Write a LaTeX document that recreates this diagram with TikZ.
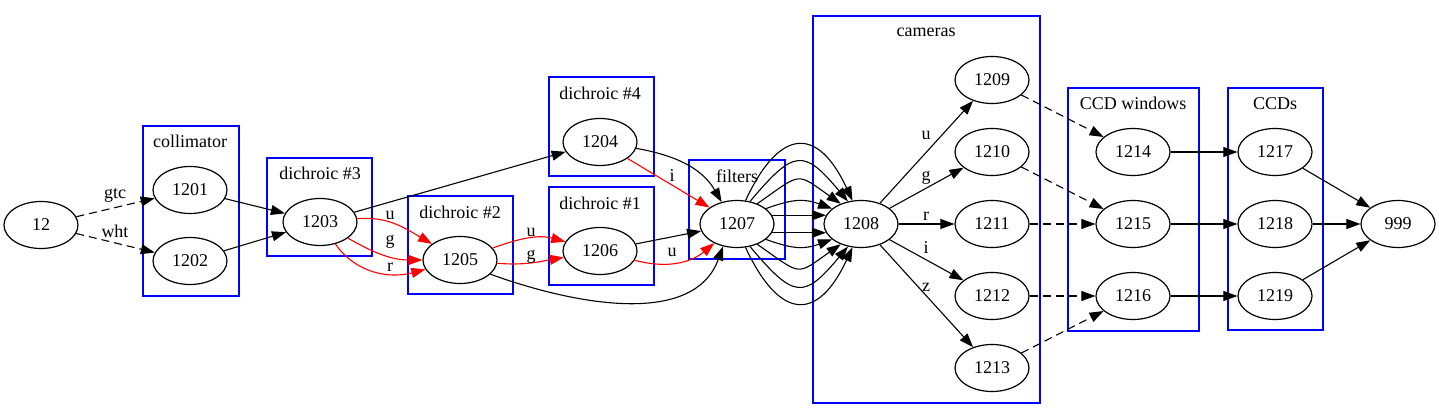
\documentclass[tikz,border=0pt]{standalone}
\usepackage{fontspec}
\setmainfont{Liberation Serif}
\usetikzlibrary{shapes.geometric,arrows.meta}
\begin{document}
\begin{tikzpicture}[x=1pt,y=1pt,
  every node/.style={font=\fontsize{18}{21}\selectfont},
  nd/.style={draw,ellipse,line width=1.2pt,minimum width=74pt,minimum height=47pt,inner sep=0pt},
  cl/.style={draw=blue,line width=1.3pt,inner sep=0pt},
  lab/.style={inner sep=0pt,text=black},
  e/.style={line width=1.1pt,-{Triangle[length=14pt,width=10pt]}},
  re/.style={e,red},
  de/.style={e,dash pattern=on 8pt off 5pt},
]
\useasboundingbox (0,0) rectangle (1439,-419);
% clusters
\node[cl,minimum width=96pt,minimum height=170pt] (ccoll) at (191,-211) {};
\node[lab] (tcoll) at (190,-141) {collimator};
\node[cl,minimum width=105pt,minimum height=98pt] (cd3) at (319.5,-207) {};
\node[lab] (td3) at (320,-173) {dichroic \#3};
\node[cl,minimum width=105pt,minimum height=98pt] (cd2) at (460.5,-245) {};
\node[lab] (td2) at (460,-212) {dichroic \#2};
\node[cl,minimum width=105pt,minimum height=99pt] (cd4) at (601.5,-126.5) {};
\node[lab] (td4) at (600,-93) {dichroic \#4};
\node[cl,minimum width=105pt,minimum height=98pt] (cd1) at (601.5,-236) {};
\node[lab] (td1) at (600,-203) {dichroic \#1};
\node[cl,minimum width=96pt,minimum height=99pt] (cfil) at (737,-209.5) {};
\node[lab] (tfil) at (737,-176) {filters};
\node[cl,minimum width=227pt,minimum height=387pt] (ccam) at (926.5,-209.5) {};
\node[lab] (tcam) at (926,-32) {cameras};
\node[cl,minimum width=131pt,minimum height=243pt] (cwin) at (1133.5,-209.5) {};
\node[lab] (twin) at (1133,-103) {CCD windows};
\node[cl,minimum width=95pt,minimum height=242pt] (cccd) at (1275.5,-209) {};
\node[lab] (tccd) at (1275,-104) {CCDs};
% nodes
\node[nd] (n12) at (41,-225) {12};
\node[nd] (n1201) at (190,-190) {1201};
\node[nd] (n1202) at (190,-261) {1202};
\node[nd] (n1203) at (320,-222) {1203};
\node[nd] (n1204) at (600,-142) {1204};
\node[nd] (n1205) at (460,-260) {1205};
\node[nd] (n1206) at (600,-251) {1206};
\node[nd] (n1207) at (737,-224) {1207};
\node[nd] (n1208) at (861,-224) {1208};
\node[nd] (n1209) at (992,-80) {1209};
\node[nd] (n1210) at (992,-152) {1210};
\node[nd] (n1211) at (992,-224) {1211};
\node[nd] (n1212) at (992,-296) {1212};
\node[nd] (n1213) at (992,-368) {1213};
\node[nd] (n1214) at (1133,-152) {1214};
\node[nd] (n1215) at (1133,-224) {1215};
\node[nd] (n1216) at (1133,-296) {1216};
\node[nd] (n1217) at (1275,-152) {1217};
\node[nd] (n1218) at (1275,-224) {1218};
\node[nd] (n1219) at (1275,-296) {1219};
\node[nd] (n999) at (1398,-224) {999};
% edges
\draw[de] (n12) -- (n1201) node[lab] (lgtc) at (115,-195) {gtc};
\draw[de] (n12) -- (n1202) node[lab] (lwht) at (115,-231) {wht};
\draw[e] (n1201) -- (n1203);
\draw[e] (n1202) -- (n1203);
\draw[e] (n1203) -- (n1204);
\draw[re] (n1203) to[out=5,in=150] (n1205) node[lab] (l35u) at (390,-215) {u};
\draw[re] (n1203) to[out=-30,in=180] (n1205) node[lab] (l35g) at (390,-242) {g};
\draw[re] (n1203) to[out=-55,in=195] (n1205) node[lab] (l35r) at (390,-267) {r};
\draw[re] (n1205) to[out=20,in=165] (n1206) node[lab] (l56u) at (531,-232) {u};
\draw[re] (n1205) to[out=-5,in=190] (n1206) node[lab] (l56g) at (531,-257) {g};
\draw[e] (n1205.-25) to[out=-20,in=-110,looseness=0.95] (n1207.-122);
\draw[e] (n1206) -- (n1207);
\draw[re] (n1206) to[out=-15,in=-140] (n1207) node[lab] (l67u) at (672,-252) {u};
\draw[re] (n1204) -- (n1207) node[lab] (l47i) at (672,-176) {i};
\draw[e] (n1204) to[out=-10,in=120] (n1207.125);
% 1207 -> 1208 (ten)
\draw[e] (n1207.70) to[out=65,in=115,looseness=1.96] (n1208.110);
\draw[e] (n1207.60) to[out=50,in=130,looseness=1.8] (n1208.120);
\draw[e] (n1207.45) to[out=35,in=145,looseness=1.7] (n1208.135);
\draw[e] (n1207.28) to[out=20,in=160,looseness=1.14] (n1208.152);
\draw[e] (n1207.14) -- (n1208.166);
\draw[e] (n1207.-14) -- (n1208.-166);
\draw[e] (n1207.-28) to[out=-20,in=-160,looseness=1.14] (n1208.-152);
\draw[e] (n1207.-45) to[out=-35,in=-145,looseness=1.7] (n1208.-135);
\draw[e] (n1207.-60) to[out=-50,in=-130,looseness=1.8] (n1208.-120);
\draw[e] (n1207.-70) to[out=-65,in=-115,looseness=1.96] (n1208.-110);
% cameras
\draw[e] (n1208) -- (n1209) node[lab] (l89) at (926,-135) {u};
\draw[e] (n1208) -- (n1210) node[lab] (l810) at (926,-178) {g};
\draw[e] (n1208) -- (n1211) node[lab] (l811) at (926,-216) {r};
\draw[e] (n1208) -- (n1212) node[lab] (l812) at (926,-248) {i};
\draw[e] (n1208) -- (n1213) node[lab] (l813) at (926,-287) {z};
\draw[de] (n1209) -- (n1214);
\draw[de] (n1210) -- (n1215);
\draw[de] (n1211) -- (n1215);
\draw[de] (n1212) -- (n1216);
\draw[de] (n1213) -- (n1216);
\draw[e] (n1214) -- (n1217);
\draw[e] (n1215) -- (n1218);
\draw[e] (n1216) -- (n1219);
\draw[e] (n1217) -- (n999);
\draw[e] (n1218) -- (n999);
\draw[e] (n1219) -- (n999);
\end{tikzpicture}
\end{document}
